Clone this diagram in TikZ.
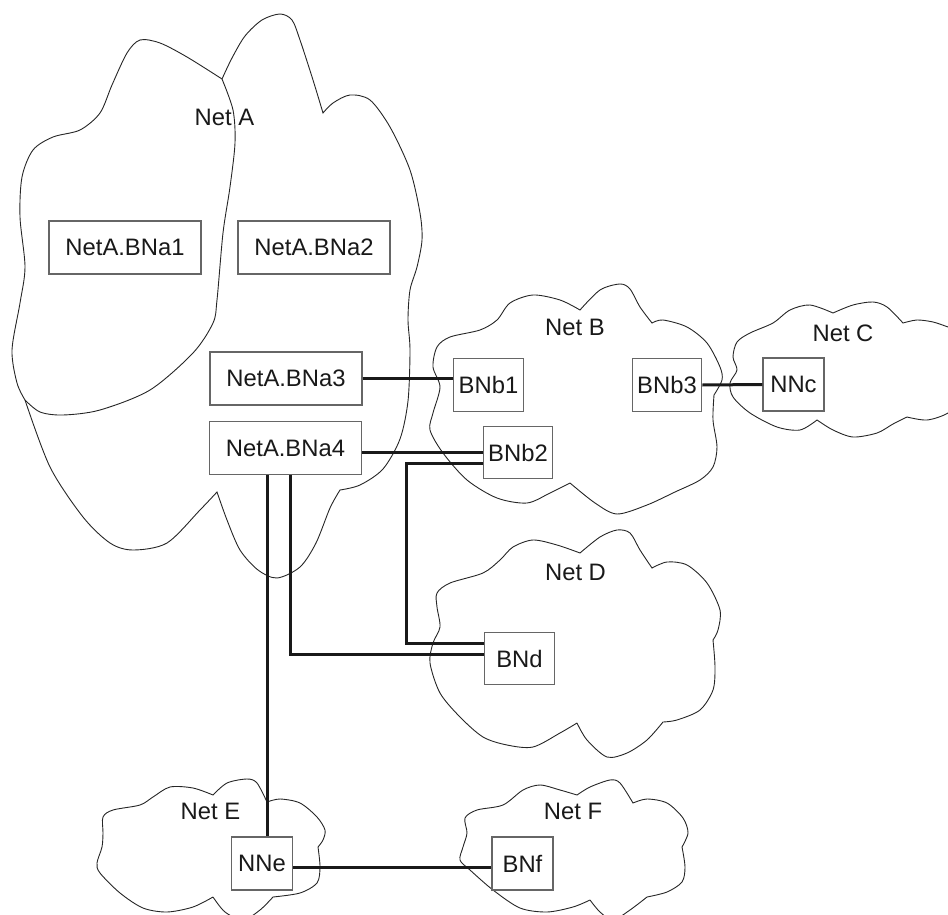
\documentclass[tikz,border=0pt]{standalone}
\usepackage{fontspec}
\setmainfont{Liberation Sans}

\begin{document}
\begin{tikzpicture}[x = 0.5pt, y = -0.5pt,
  box/.style = {draw = black!60, line width = 0.65pt, fill = white, inner sep = 0, text = black!90, font = \fontsize{11.9}{14}\selectfont},
  bigbox/.style = {box, minimum width = 76pt, minimum height = 26.5pt},
  midbox/.style = {box, minimum width = 34.75pt, minimum height = 26.25pt},
  smallbox/.style = {box, minimum width = 30.5pt, minimum height = 26.5pt},
  netname/.style = {inner sep = 0, text = black!90, font = \fontsize{11.9}{14}\selectfont},
  cloudline/.style = {line width = 0.45pt, black!85},
  link/.style = {line width = 1.5pt, black!90}]
\clip (0,0) rectangle (948,915);

% Net A, two lobes
\draw[cloudline] plot[smooth] coordinates {(222,79) (187,57) (160,43) (140,40) (127,53) (112,85) (100,113) (80,130) (53,137) (33,150) (22,177) (20,217) (25,267) (20,303) (12,350) (17,383) (25,400)}
  -- plot[smooth] coordinates {(25,400) (40,412) (63,415) (100,410) (150,390) (193,353) (213,323) (217,300) (223,233) (230,187) (235,143) (233,110) (222,79)};
\draw[cloudline] plot[smooth] coordinates {(222,79) (232,58) (245,36) (262,20) (280,14) (292,20) (300,40) (313,80) (323,113)}
  -- plot[smooth] coordinates {(323,113) (333,103) (350,95) (370,100) (390,127) (410,170) (420,213) (422,240) (417,267) (410,290) (408,320) (410,350) (408,401) (400,439) (383,469) (360,485) (340,490)}
  -- plot[smooth] coordinates {(340,490) (330,508) (316,543) (300,567) (277,578) (258,570) (240,550) (227,520) (217,492)}
  -- plot[smooth] coordinates {(217,492) (200,510) (167,543) (133,550) (110,543) (83,517) (50,467) (25,400)};

% Net B
\draw[cloudline] plot[smooth] coordinates {(570,483) (550,493) (527,503) (497,498) (467,480) (443,453) (430,430) (433,413) (440,387) (433,367) (437,347) (450,337) (480,330) (497,320) (510,303) (533,295) (560,300) (580,310)}
  -- plot[smooth] coordinates {(580,310) (600,290) (620,284) (630,289) (640,307) (652,323)}
  -- plot[smooth] coordinates {(652,323) (663,320) (687,327) (707,343) (720,367) (722,380) (714,395)}
  -- plot[smooth] coordinates {(714,395) (713,420) (717,447) (713,467) (700,480) (675,492) (647,505) (617,514) (595,503) (570,483)};

% Net C
\draw[cloudline] plot[smooth] coordinates {(833,313) (810,305) (790,310) (773,323) (750,333) (737,342) (733,357) (737,370) (730,383) (733,397) (750,413) (777,427) (800,430) (817,420)}
  -- plot[smooth] coordinates {(817,420) (833,430) (853,437) (877,433) (893,424) (907,417)}
  -- plot[smooth] coordinates {(907,417) (927,420) (948,413) (970,395)}
  -- (990,360)
  -- plot[smooth] coordinates {(970,335) (948,327) (933,322) (917,320) (903,323)}
  -- plot[smooth] coordinates {(903,323) (887,307) (873,302) (853,305) (833,313)};

% Net D
\draw[cloudline] plot[smooth] coordinates {(577,723) (560,733) (533,747) (507,745) (483,737) (460,717) (440,693) (430,663) (433,643) (440,627) (437,607) (437,593) (450,583) (483,573) (500,560) (513,547) (533,540) (557,545) (580,553)}
  -- plot[smooth] coordinates {(580,553) (600,537) (617,530) (630,533) (640,550) (652,568)}
  -- plot[smooth] coordinates {(652,568) (667,562) (687,565) (707,583) (720,610) (718,630) (713,640)}
  -- plot[smooth] coordinates {(713,640) (715,667) (713,690) (700,710) (677,720) (663,722)}
  -- plot[smooth] coordinates {(663,722) (647,740) (627,753) (607,757) (587,740) (577,723)};

% Net E
\draw[cloudline] plot[smooth] coordinates {(213,897) (193,907) (167,912) (143,908) (120,893) (100,873) (97,863) (102,847) (103,833) (103,817) (113,810) (140,805) (153,797) (170,787) (193,788) (213,795)}
  -- plot[smooth] coordinates {(213,795) (227,783) (247,779) (257,783) (267,802)}
  -- plot[smooth] coordinates {(267,802) (280,799) (300,803) (317,817) (325,830) (323,840) (318,847)}
  -- plot[smooth] coordinates {(318,847) (320,867) (317,883) (300,893) (273,897)}
  -- plot[smooth] coordinates {(273,897) (260,910) (243,920) (225,912) (213,897)};

% Net F
\draw[cloudline] plot[smooth] coordinates {(590,900) (573,907) (547,912) (520,908) (493,890) (470,870) (460,860) (463,847) (467,833) (465,818) (477,810) (503,805) (523,790) (540,785) (560,790) (577,795)}
  -- plot[smooth] coordinates {(577,795) (590,787) (610,780) (620,783) (633,803)}
  -- plot[smooth] coordinates {(633,803) (647,799) (667,803) (683,818) (688,833) (682,847)}
  -- plot[smooth] coordinates {(682,847) (685,867) (682,882) (667,892) (647,897)}
  -- plot[smooth] coordinates {(647,897) (630,910) (613,920) (600,912) (590,900)};

\node[netname] (neta) at (224.5,117) {Net A};
\node[netname] (netb) at (575,327) {Net B};
\node[netname] (netc) at (843,333) {Net C};
\node[netname] (netd) at (575.5,572) {Net D};
\node[netname] (nete) at (210.5,811) {Net E};
\node[netname] (netf) at (573,811) {Net F};

\node[bigbox] (na1) at (125,247.5) {NetA.BNa1};
\node[bigbox] (na2) at (314,247.5) {NetA.BNa2};
\node[bigbox] (na3) at (286,378.5) {NetA.BNa3};
\node[bigbox] (na4) at (285.5,448) {NetA.BNa4};
\node[midbox] (nb1) at (488.5,385) {BNb1};
\node[midbox] (nb2) at (518,452.5) {BNb2};
\node[midbox] (nb3) at (667,385) {BNb3};
\node[midbox] (bnd) at (519.5,658.5) {BNd};
\node[smallbox] (nnc) at (793.5,384.5) {NNc};
\node[smallbox] (nne) at (262,863.5) {NNe};
\node[smallbox] (bnf) at (522.5,863.5) {BNf};

\draw[link] (na3.east) -- (na3.east -| nb1.west);
\draw[link] (na4.east |- nb2.west) -- (nb2.west);
\draw[link] ([yshift = -5.5pt]nb2.west) -- ++(-76,0) |- ([yshift = 7.75pt]bnd.west);
\draw[link] ([xshift = 2.25pt]na4.south) |- ([yshift = 2.25pt]bnd.west);
\draw[link] ([xshift = -9.25pt]na4.south) -- ([xshift = -9.25pt]na4.south |- nne.north);
\draw[link] ([yshift = -1.75pt]nne.east) -- ([yshift = -1.75pt]nne.east -| bnf.west);
\draw[link] (nb3.east) -- (nnc.west);
\end{tikzpicture}
\end{document}
